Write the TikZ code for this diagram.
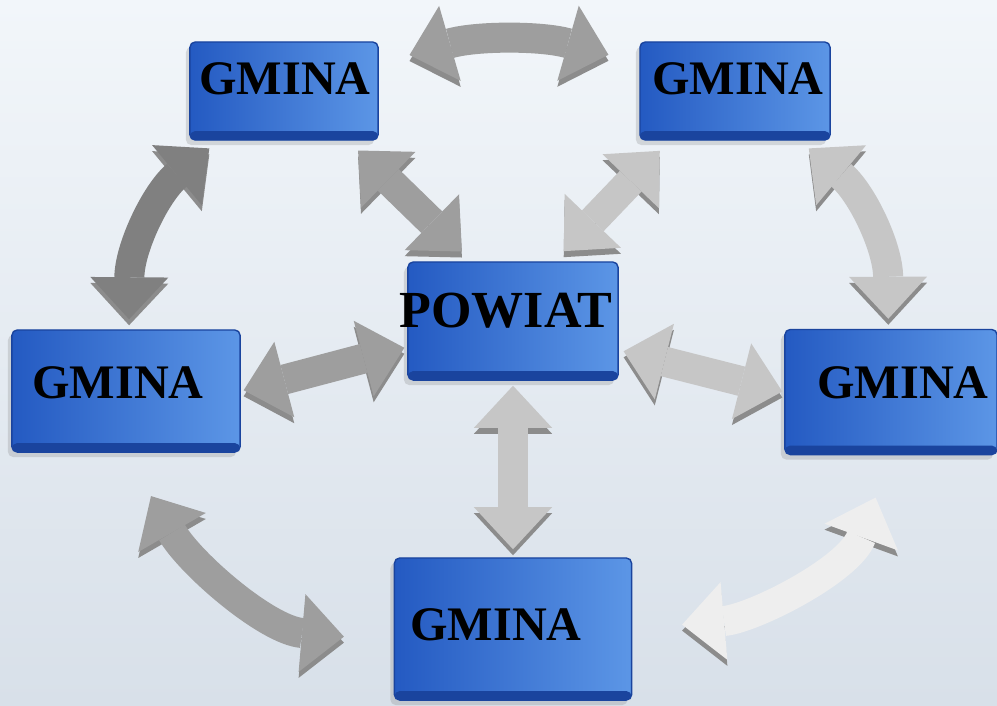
\documentclass[tikz,border=0pt]{standalone}
\usepackage{fontspec}
\setmainfont{Liberation Serif}
\usetikzlibrary{arrows.meta,shadows}

\definecolor{bgtop}{RGB}{242,246,250}
\definecolor{bgbot}{RGB}{216,224,233}
\definecolor{boxl}{RGB}{36,90,194}
\definecolor{boxr}{RGB}{92,150,230}
\definecolor{boxedge}{RGB}{26,68,158}
\definecolor{arrdark}{RGB}{128,128,128}
\definecolor{arrmid}{RGB}{158,158,158}
\definecolor{arrlight}{RGB}{198,198,198}
\definecolor{arrwhite}{RGB}{238,238,238}

\tikzset{
  gbox/.style={rectangle, rounded corners=1.5pt, left color=boxl, right color=boxr,
    draw=boxedge, line width=0.4pt, inner sep=0pt,
    drop shadow={shadow xshift=-0.04cm, shadow yshift=-0.05cm, opacity=0.25},
    path picture={\fill[boxedge] (path picture bounding box.south west) rectangle
      ([yshift=0.09cm]path picture bounding box.south east);}},
  gtext/.style={font=\bfseries\fontsize{13.7}{16}\selectfont, inner sep=0pt},
  link/.style={line width=0.3cm,
    {Triangle[length=0.42cm,width=0.78cm,line width=0pt]}-{Triangle[length=0.42cm,width=0.78cm,line width=0pt]},
    preaction={draw=black!45, transform canvas={yshift=-0.06cm}}}
}

\begin{document}
\begin{tikzpicture}[x=0.01cm, y=-0.01cm]
    % background
    \fill[top color=bgtop, bottom color=bgbot] (0,0) rectangle (997,705);
    \useasboundingbox (0,0) rectangle (997,705);

    % boxes
    \node[gbox, minimum width=1.88cm, minimum height=0.98cm] (gmTL) at (284,91) {};
    \node[gbox, minimum width=1.90cm, minimum height=0.98cm] (gmTR) at (735,91) {};
    \node[gbox, minimum width=2.10cm, minimum height=1.18cm] (pow) at (513,321) {};
    \node[gbox, minimum width=2.28cm, minimum height=1.22cm] (gmL) at (126,391) {};
    \node[gbox, minimum width=2.12cm, minimum height=1.25cm] (gmR) at (891,392) {};
    \node[gbox, minimum width=2.37cm, minimum height=1.42cm] (gmB) at (513,629) {};

    % arrows round the powiat
    \draw[link, draw=arrmid, shorten <=0.32cm, shorten >=0.32cm] (gmTL) to[bend left=16] (gmTR);
    \draw[link, draw=arrdark, shorten <=0.12cm, shorten >=0.1cm] (gmTL) to[bend right=25] (gmL);
    \draw[link, draw=arrlight, shorten <=0.12cm, shorten >=0.1cm] (gmTR) to[bend left=25] (gmR);
    \draw[link, draw=arrmid, shorten <=0.5cm, shorten >=0.5cm] (gmL.south) to[out=-60, in=175] ([yshift=-0.12cm]gmB.west);
    \draw[link, draw=arrwhite, shorten <=0.5cm, shorten >=0.45cm] (gmB.east) to[out=5, in=-110] (gmR.south);

    % arrows to the powiat
    \draw[link, draw=arrmid, shorten <=0.14cm, shorten >=0.14cm] ([xshift=0.64cm]gmTL.south) -- ([xshift=-0.41cm]pow.north);
    \draw[link, draw=arrlight, shorten <=0.14cm, shorten >=0.14cm] ([xshift=-0.655cm]gmTR.south) -- ([xshift=0.41cm]pow.north);
    \draw[link, draw=arrmid, shorten <=0.03cm, shorten >=0.03cm] (gmL.east) -- ([yshift=-0.26cm]pow.west);
    \draw[link, draw=arrlight, shorten <=0.05cm, shorten >=0.02cm] ([yshift=-0.29cm]pow.east) -- (gmR.west);
    \draw[link, draw=arrlight, shorten <=0.05cm, shorten >=0.08cm] (pow.south) -- (gmB.north);

    % texts
    \node[gtext] (gmTLtext) at (285,79) {GMINA};
    \node[gtext] (gmTRtext) at (738,79) {GMINA};
    \node[gtext, font=\bfseries\fontsize{14.8}{17}\selectfont] (powtext) at (506,311) {POWIAT};
    \node[gtext] (gmLtext) at (118,383) {GMINA};
    \node[gtext] (gmRtext) at (903,383) {GMINA};
    \node[gtext] (gmBtext) at (496,625) {GMINA};
\end{tikzpicture}
\end{document}
